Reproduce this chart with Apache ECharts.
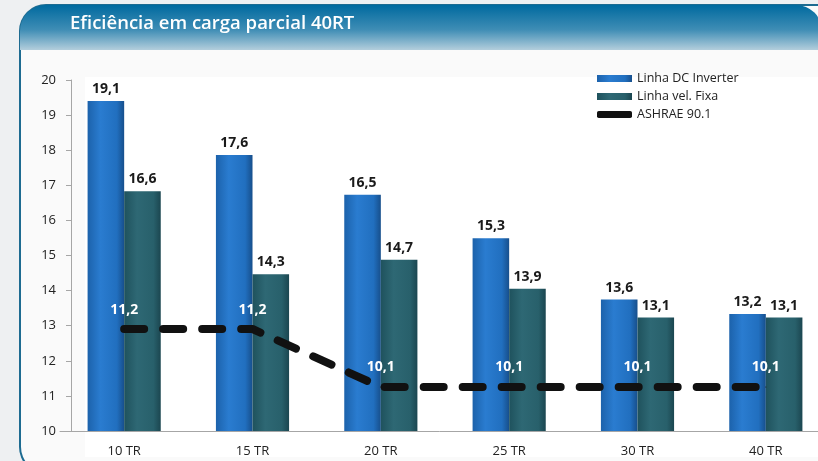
<!DOCTYPE html>
<html>
<head>
<meta charset="utf-8">
<script src="https://cdn.jsdelivr.net/npm/echarts@6/dist/echarts.min.js"></script>
<style>
  html, body { margin: 0; padding: 0; background: #eef0f2; overflow: hidden; }
  #chart { width: 818px; height: 461px; }
</style>
</head>
<body>
<div id="chart"></div>
<script>
  const categories = ['10 TR', '15 TR', '20 TR', '25 TR', '30 TR', '40 TR']
  const dcInverter = [19.1, 17.6, 16.5, 15.3, 13.6, 13.2]
  const velFixa = [16.6, 14.3, 14.7, 13.9, 13.1, 13.1]
  const ashrae = [11.2, 11.2, 10.1, 10.1, 10.1, 10.1]

  const comma = v => String(v).replace('.', ',')
  const font = '"Open Sans", sans-serif'

  const chart = echarts.init(document.getElementById('chart'))

  chart.setOption({
    backgroundColor: '#eef0f2',
    animation: false,
    graphic: [
      { // borda do painel
        type: 'rect', z: -11, silent: true,
        shape: { x: 19, y: 4, width: 900, height: 470, r: 27 },
        style: { fill: '#1d6b91' }
      },
      { // painel
        type: 'rect', z: -10, silent: true,
        shape: { x: 21, y: 6, width: 900, height: 466, r: 25 },
        style: { fill: '#fafafa' }
      },
      { // cabeçalho (canto direito visível)
        type: 'rect', z: -8, silent: true,
        shape: { x: 20, y: 5, width: 802, height: 45, r: [26, 26, 0, 0] },
        style: {
          fill: new echarts.graphic.LinearGradient(0, 0, 0, 1, [
            { offset: 0, color: '#006a9f' },
            { offset: 0.55, color: '#3f8db5' },
            { offset: 1, color: '#b3cedc' }
          ])
        }
      },
      { // área do gráfico
        type: 'rect', z: -7, silent: true,
        shape: { x: 85, y: 77, width: 740, height: 380 },
        style: { fill: '#ffffff' }
      },
      {
        type: 'text', left: 70, top: 14, z: 10,
        style: {
          text: 'Eficiência em carga parcial 40RT',
          fill: '#ffffff', font: '600 18.5px "Open Sans", sans-serif'
        }
      }
    ],
    legend: {
      left: 592, top: 67, orient: 'vertical',
      itemWidth: 35, itemHeight: 7, itemGap: 5,
      textStyle: { fontFamily: font, fontSize: 12.5, color: '#222' },
      data: [
        { name: 'Linha DC Inverter', icon: 'rect' },
        { name: 'Linha vel. Fixa', icon: 'rect' },
        { name: 'ASHRAE 90.1', icon: 'roundRect', itemStyle: { color: '#111' } }
      ]
    },
    grid: { left: 60, width: 770, top: 80, bottom: 30, outerBoundsMode: 'none' },
    xAxis: {
      type: 'category',
      data: categories,
      axisLine: { lineStyle: { color: '#a6a6a6' } },
      axisTick: { length: 5, lineStyle: { color: '#a6a6a6' } },
      axisLabel: { margin: 14, color: '#222', fontFamily: font, fontSize: 13 }
    },
    yAxis: [{
      type: 'value', min: 10, max: 20, interval: 1, offset: -11,
      splitLine: { show: false },
      axisLine: { show: true, lineStyle: { color: '#a6a6a6' } },
      axisTick: { show: true, length: 5, lineStyle: { color: '#a6a6a6' } },
      axisLabel: { margin: 15, color: '#222', fontFamily: font, fontSize: 13 }
    }, {
      // escala oculta da linha ASHRAE (como no original)
      type: 'value', min: 9.265, max: 15.925, show: false,
      splitLine: { show: false }
    }, {
      // escala oculta das barras (como no original)
      type: 'value', min: 9.96, max: 19.68, show: false,
      splitLine: { show: false }
    }],
    series: [{
      name: 'Linha DC Inverter',
      type: 'bar',
      yAxisIndex: 2,
      data: dcInverter,
      barGap: '0%',
      barCategoryGap: '43%',
      itemStyle: {
        color: new echarts.graphic.LinearGradient(0, 0, 1, 0, [
          { offset: 0, color: '#1c62ab' },
          { offset: 0.35, color: '#2a7cd0' },
          { offset: 0.8, color: '#216fbf' },
          { offset: 1, color: '#174f8c' }
        ])
      },
      label: {
        show: true, position: 'top', distance: 5,
        formatter: p => comma(p.value),
        color: '#1a1a1a', fontFamily: font, fontWeight: 'bold', fontSize: 14
      }
    }, {
      name: 'Linha vel. Fixa',
      type: 'bar',
      yAxisIndex: 2,
      data: velFixa,
      itemStyle: {
        color: new echarts.graphic.LinearGradient(0, 0, 1, 0, [
          { offset: 0, color: '#1f525d' },
          { offset: 0.35, color: '#2e6874' },
          { offset: 0.8, color: '#28606b' },
          { offset: 1, color: '#1b4650' }
        ])
      },
      label: {
        show: true, position: 'top', distance: 5,
        formatter: p => comma(p.value),
        color: '#1a1a1a', fontFamily: font, fontWeight: 'bold', fontSize: 14
      }
    }, {
      name: 'ASHRAE 90.1',
      type: 'line',
      yAxisIndex: 1,
      data: ashrae,
      symbol: 'circle',
      symbolSize: 1,
      itemStyle: { color: '#111' },
      lineStyle: { color: '#111', width: 8, type: [20, 19], cap: 'round' },
      label: {
        show: true, position: 'top', distance: 12,
        formatter: p => comma(p.value),
        color: '#ffffff', fontFamily: font, fontWeight: 'bold', fontSize: 14
      },
      z: 5
    }]
  })
</script>
</body>
</html>
